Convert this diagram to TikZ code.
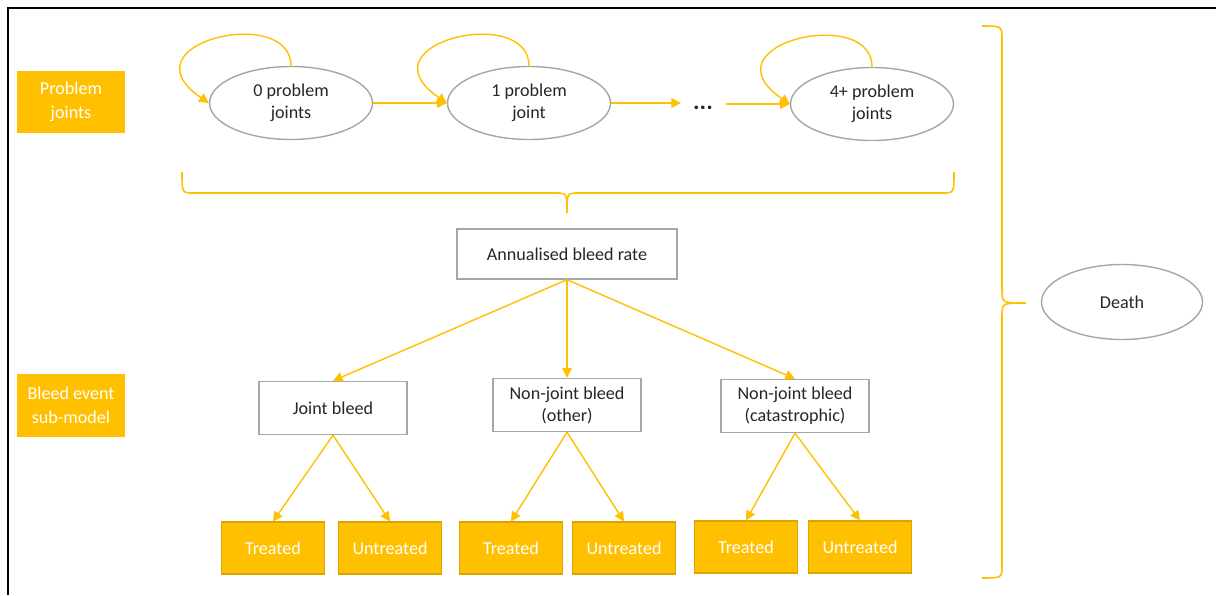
\documentclass[tikz,border=0pt]{standalone}
\usepackage{fontspec}
\setmainfont{Carlito}
\usetikzlibrary{arrows.meta, shapes.geometric}
\definecolor{gold}{HTML}{FFC000}
\definecolor{golddark}{HTML}{DCA400}
\definecolor{greyline}{HTML}{A6A6A6}
\definecolor{inkgrey}{HTML}{262626}

\begin{document}
\begin{tikzpicture}[x=0.02cm, y=-0.02cm, font=\fontsize{10.3}{12.5}\selectfont, text=inkgrey]
      \tikzset{state/.style = {shape=ellipse, draw=greyline, line width=0.8pt, minimum width=3.26cm, minimum height=1.46cm, inner sep=0pt, align=center}}
      \tikzset{event/.style = {shape=rectangle, draw=greyline, line width=0.8pt, minimum width=2.96cm, minimum height=1.06cm, inner sep=0pt, align=center}}
      \tikzset{outcome/.style = {shape=rectangle, fill=gold, draw=golddark, line width=0.6pt, text=white, minimum width=2.06cm, minimum height=1.04cm, inner sep=0pt}}
      \tikzset{tag/.style = {shape=rectangle, fill=gold, text=white, minimum width=2.18cm, minimum height=1.26cm, inner sep=0pt, align=center, font=\fontsize{10.3}{13.5}\selectfont}}
      \tikzset{edge/.style = {-{Triangle[length=5.5pt,width=5.5pt]}, draw=gold, line width=0.8pt}}
      \tikzset{curly/.style = {draw=gold, line width=0.9pt}}
      \useasboundingbox (0,0) rectangle (1216,595);
      \draw[line width=1.7pt] (8,595) -- (8,8) -- (1216,8);
      \node[tag] (t1) at (71,102) {Problem\\joints};
      \node[tag] (t2) at (71,405) {Bleed event\\sub-model};
      \node[state] (s0) at (291,103) {0 problem\\joints};
      \node[state] (s1) at (529,103) {1 problem\\joint};
      \node[font=\fontsize{14}{16}\selectfont\bfseries] (dots) at (703,108) {...};
      \node[state] (s4) at (872,104) {4+ problem\\joints};
      \node[state, minimum width=3.22cm, minimum height=1.5cm] (death) at (1122,302) {Death};
      \node[event, minimum width=4.4cm, minimum height=1cm] (abr) at (567,254) {Annualised bleed rate};
      \node[event] (jb) at (333,408) {Joint bleed};
      \node[event] (nb) at (567,405) {Non-joint bleed\\(other)};
      \node[event] (cb) at (795,406) {Non-joint bleed\\(catastrophic)};
      \node[outcome] (jt) at (273,548) {Treated};
      \node[outcome] (ju) at (390,548) {Untreated};
      \node[outcome] (nt) at (511,548) {Treated};
      \node[outcome] (nu) at (624,548) {Untreated};
      \node[outcome] (ct) at (746,547) {Treated};
      \node[outcome] (cu) at (860,547) {Untreated};
      \coordinate (gap1) at (681,103);
      \coordinate (gap2) at (726,104);
      \draw[edge] (s0) to (s1);
      \draw[edge] (s1.east) to (gap1);
      \draw[edge] (gap2) to (s4.west);
      \draw[edge] (s0.north) .. controls +(0,-62) and +(-88,-60) .. (s0.west);
      \draw[edge] (s1.north) .. controls +(0,-62) and +(-88,-60) .. (s1.west);
      \draw[edge] (s4.north) .. controls +(0,-62) and +(-88,-60) .. (s4.west);
      \draw[edge] (abr.south) to (jb.north);
      \draw[edge] (abr.south) to (nb.north);
      \draw[edge] (abr.south) to (cb.north);
      \draw[edge] (jb.south) to (jt.north);
      \draw[edge] (jb.south) to (ju.north);
      \draw[edge] (nb.south) to (nt.north);
      \draw[edge] (nb.south) to (nu.north);
      \draw[edge] (cb.south) to (ct.north);
      \draw[edge] (cb.south) to (cu.north);
      \draw[curly] (182,172) .. controls (182,193) .. (194,193) -- (555,193)
        .. controls (567,193) .. (567,213) .. controls (567,193) .. (579,193)
        -- (942,193) .. controls (954,193) .. (954,172);
      \draw[curly] (982,26) .. controls (1002,26) .. (1002,40) -- (1002,290)
        .. controls (1002,303) .. (1026,303) .. controls (1002,303) .. (1002,316)
        -- (1002,565) .. controls (1002,578) .. (982,578);
    \end{tikzpicture}
\end{document}
